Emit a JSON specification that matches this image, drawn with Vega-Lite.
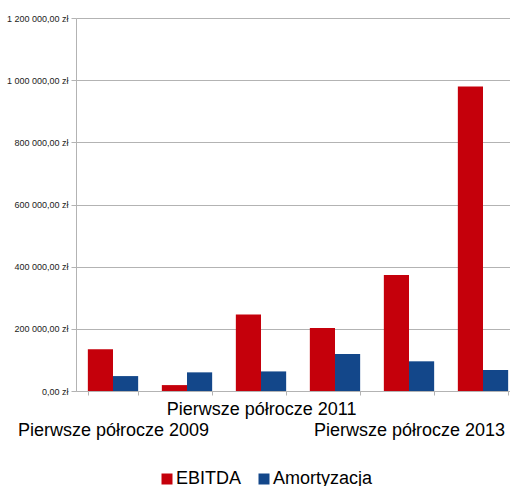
{
  "$schema": "https://vega.github.io/schema/vega-lite/v6.json",
  "autosize": "none",
  "padding": {"left": 76, "top": 18, "right": 0, "bottom": 95},
  "width": 444,
  "height": 373,
  "data": {
    "values": [
      {"okres": "Pierwsze półrocze 2009", "seria": "EBITDA", "wartosc": 134000},
      {"okres": "Pierwsze półrocze 2009", "seria": "Amortyzacja", "wartosc": 48000},
      {"okres": "Pierwsze półrocze 2010", "seria": "EBITDA", "wartosc": 19000},
      {"okres": "Pierwsze półrocze 2010", "seria": "Amortyzacja", "wartosc": 60000},
      {"okres": "Pierwsze półrocze 2011", "seria": "EBITDA", "wartosc": 246500},
      {"okres": "Pierwsze półrocze 2011", "seria": "Amortyzacja", "wartosc": 63000},
      {"okres": "Pierwsze półrocze 2012", "seria": "EBITDA", "wartosc": 202500},
      {"okres": "Pierwsze półrocze 2012", "seria": "Amortyzacja", "wartosc": 119000},
      {"okres": "Pierwsze półrocze 2013", "seria": "EBITDA", "wartosc": 373000},
      {"okres": "Pierwsze półrocze 2013", "seria": "Amortyzacja", "wartosc": 95500},
      {"okres": "Pierwsze półrocze 2014", "seria": "EBITDA", "wartosc": 980000},
      {"okres": "Pierwsze półrocze 2014", "seria": "Amortyzacja", "wartosc": 67500}
    ]
  },
  "mark": {"type": "bar"},
  "encoding": {
    "x": {
      "field": "okres",
      "type": "nominal",
      "sort": null,
      "scale": {"paddingInner": 0.32, "paddingOuter": 0.16},
      "axis": {
        "title": null,
        "labelAngle": 0,
        "labelOverlap": false,
        "labelLimit": 0,
        "labelFontSize": 18,
        "labelColor": "#000000",
        "labelBaseline": "top",
        "labelLineHeight": 21,
        "labelPadding": 5,
        "tickSize": 4,
        "tickBand": "extent",
        "tickColor": "#b3b3b3",
        "domainColor": "#b3b3b3",
        "labelExpr": "datum.value == 'Pierwsze półrocze 2011' ? datum.value : ((datum.value == 'Pierwsze półrocze 2009' || datum.value == 'Pierwsze półrocze 2013') ? ['', datum.value] : '')"
      }
    },
    "xOffset": {
      "field": "seria",
      "type": "nominal",
      "sort": ["EBITDA", "Amortyzacja"],
      "scale": {"paddingInner": 0, "paddingOuter": 0}
    },
    "y": {
      "field": "wartosc",
      "type": "quantitative",
      "scale": {"domain": [0, 1200000], "nice": false},
      "axis": {
        "title": null,
        "tickCount": 6,
        "format": "$,.2f",
        "labelFontSize": 9,
        "labelColor": "#222222",
        "labelPadding": 3,
        "tickSize": 5,
        "tickColor": "#b3b3b3",
        "domainColor": "#b3b3b3",
        "gridColor": "#b3b3b3",
        "gridOpacity": 1
      }
    },
    "color": {
      "field": "seria",
      "type": "nominal",
      "scale": {"domain": ["EBITDA", "Amortyzacja"], "range": ["#c5000b", "#13478a"]},
      "legend": {
        "title": null,
        "orient": "none",
        "direction": "horizontal",
        "legendX": 82,
        "legendY": 452,
        "padding": 0,
        "symbolType": "square",
        "symbolSize": 121,
        "symbolStrokeWidth": 0,
        "symbolOpacity": 1,
        "labelFontSize": 18,
        "labelColor": "#000000",
        "labelOffset": 0,
        "columnPadding": 13
      }
    }
  },
  "config": {
    "font": "Liberation Sans",
    "view": {"stroke": null},
    "locale": {
      "number": {
        "decimal": ",",
        "thousands": " ",
        "grouping": [3],
        "currency": ["", " zł"]
      }
    }
  }
}
